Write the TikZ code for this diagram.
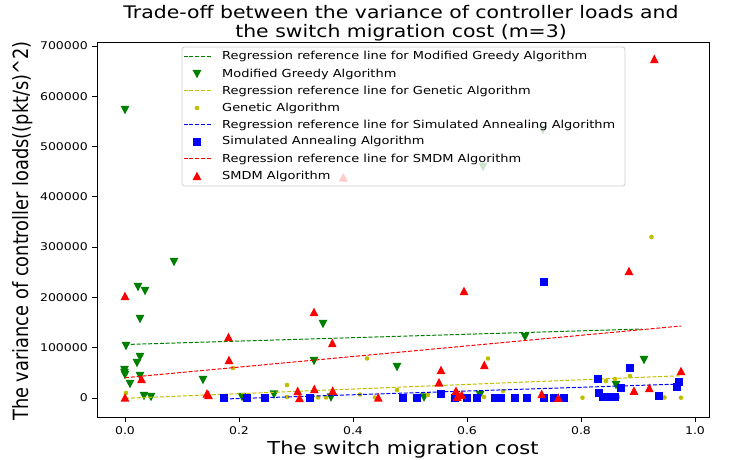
\documentclass[tikz,border=0pt]{standalone}
\usepackage{fontspec}
\setmainfont{DejaVu Sans}
\definecolor{mgreen}{rgb}{0,0.5,0}
\definecolor{myellow}{rgb}{0.75,0.75,0}
\definecolor{mblue}{rgb}{0,0,1}
\definecolor{mred}{rgb}{1,0,0}
\definecolor{legedge}{gray}{0.8}
\newcommand{\hs}[1]{\scalebox{1.18}[1]{#1}}
\newcommand{\vs}[1]{\scalebox{1}[1.18]{#1}}
\tikzset{
  gtri/.pic={\fill[mgreen] (-4.4,-4.2) -- (4.4,-4.2) -- (0,4.4) -- cycle;},
  rtri/.pic={\fill[mred] (-4.4,4.2) -- (4.4,4.2) -- (0,-4.4) -- cycle;},
  bsq/.pic={\fill[mblue] (-4,-4) rectangle (4,4);},
  ydot/.pic={\fill[myellow] (0,0) circle (2.3);},
  regline/.style={line width=1pt, dash pattern=on 4pt off 1.8pt},
  ticklab/.style={font=\fontsize{10.6}{12}\selectfont, inner sep=0pt},
  leglab/.style={font=\fontsize{11}{13}\selectfont, inner sep=0pt, anchor=west},
  biglab/.style={font=\fontsize{17.8}{20}\selectfont, inner sep=0pt},
  titlab/.style={font=\fontsize{17.3}{20}\selectfont, inner sep=0pt},
}
\begin{document}
\begin{tikzpicture}[x=1pt,y=-1pt]
\useasboundingbox (0,0) rectangle (732,459);
\fill[white] (0,0) rectangle (732,459);
% regression + points (plot order)
\coordinate (g1) at (125,344.5); \coordinate (g2) at (642,329);
\draw[regline, mgreen] (g1) -- (g2);
\foreach \x/\y in {125/110,174/262,138/287,145/291,140/319,126/346,140/357,137/363,124.5/370,124.5/373,125/375,140/376,130/384,203/380,144/396,151/397,242/397,274/394.5,323/324,314/361,397/367,331/397.5,424/397.5,480/395,525/337,644/360,616/385,543/130,483/167}
  \pic at (\x,\y) {gtri};
\coordinate (y1) at (125,398.3); \coordinate (y2) at (681,375.7);
\draw[regline, myellow] (y1) -- (y2);
\foreach \x/\y in {126/393,233/368,287/385,287/397,318/397.5,326/397.5,360/394.5,367/358.5,375/397.5,397/390,428/395,484/397,488/358.5,503/391,582.5/397.7,606/381,615/379,618/397,630/376,651.5/237,664.5/397.5,681/397.7}
  \pic at (\x,\y) {ydot};
\coordinate (b1) at (224,399); \coordinate (b2) at (681,384);
\draw[regline, mblue] (b1) -- (b2);
\foreach \x/\y in {224/397.5,247/397.7,264.5/397.5,310/397.5,403/397.5,416.5/397.5,440.5/393.5,454.5/398,467/397.5,477/397.5,494.5/397.7,500.5/397.7,515/397.7,527/397.7,543.5/397.7,553.5/397.7,563.5/397.7,543.5/282.3,630/368.3,597.7/379.3,620.7/387.7,679/382,677.3/386.7,599.3/392.7,603.3/397.3,610/397.3,615/397.3,659/395.7}
  \pic at (\x,\y) {bsq};
\coordinate (r1) at (125,377.7); \coordinate (r2) at (681,326);
\draw[regline, mred] (r1) -- (r2);
\foreach \x/\y in {125/296,228.5/337,229/360,141.5/379,125/397.5,207/393.5,208.5/395,297.7/391,299.5/398,314/312,332.3/343,464/291,441/370,484.3/365,439/382.3,314.3/389,332.7/390.7,378.3/397.5,456/390.7,457.3/396.7,461.7/394.7,681/371,634/390.7,649.3/388,541.7/394,558.3/397.7,629/271,654.3/59,343.3/177.3}
  \pic at (\x,\y) {rtri};
% axes frame
\draw[line width=0.9pt] (97,42) rectangle (709,417);
% y ticks
\foreach \v [count=\i from 0] in {0,100000,200000,300000,400000,500000,600000,700000}{
  \draw[line width=0.9pt] (92,398-\i*50.29) -- (97,398-\i*50.29);
  \node[ticklab, anchor=east] at (88,398-\i*50.29) {\hs{\v}};
}
% x ticks
\foreach \v [count=\i from 0] in {0.0,0.2,0.4,0.6,0.8,1.0}{
  \draw[line width=0.9pt] (125+\i*114,417) -- (125+\i*114,422);
  \node[ticklab, anchor=base] at (125+\i*114,434) {\hs{\v}};
}
% labels
\node[biglab, anchor=base] (xl) at (403,454) {\hs{The switch migration cost}};
\node[biglab, anchor=base, rotate=90] (yl) at (28.5,231) {\vs{The variance of controller loads((pkt/s)\textasciicircum 2)}};
\node[titlab, anchor=base] (t1) at (401,18) {\hs{Trade-off between the variance of controller loads and}};
\node[titlab, anchor=base] (t2) at (401,37) {\hs{the switch migration cost (m=3)}};
% legend
\fill[white, opacity=0.8, rounded corners=2.5pt] (182,47) rectangle (625,186);
\draw[legedge, line width=0.8pt, rounded corners=2.5pt] (182,47) rectangle (625,186);
\draw[regline, mgreen] (183.5,56.5) -- (211,56.5);
\pic at (197,74) {gtri};
\draw[regline, myellow] (183.5,90.5) -- (211,90.5);
\pic at (197,108) {ydot};
\draw[regline, mblue] (183.5,124.5) -- (211,124.5);
\pic at (197,141.7) {bsq};
\draw[regline, mred] (183.5,158.5) -- (211,158.5);
\pic at (197,176) {rtri};
\node[leglab] (l1) at (222,56.7) {\hs{Regression reference line for Modified Greedy Algorithm}};
\node[leglab] (l2) at (222,74) {\hs{Modified Greedy Algorithm}};
\node[leglab] (l3) at (222,91) {\hs{Regression reference line for Genetic Algorithm}};
\node[leglab] (l4) at (222,108) {\hs{Genetic Algorithm}};
\node[leglab] (l5) at (222,125) {\hs{Regression reference line for Simulated Annealing Algorithm}};
\node[leglab] (l6) at (222,141.7) {\hs{Simulated Annealing Algorithm}};
\node[leglab] (l7) at (222,159) {\hs{Regression reference line for SMDM Algorithm}};
\node[leglab] (l8) at (222,176) {\hs{SMDM Algorithm}};
\end{tikzpicture}
\end{document}
